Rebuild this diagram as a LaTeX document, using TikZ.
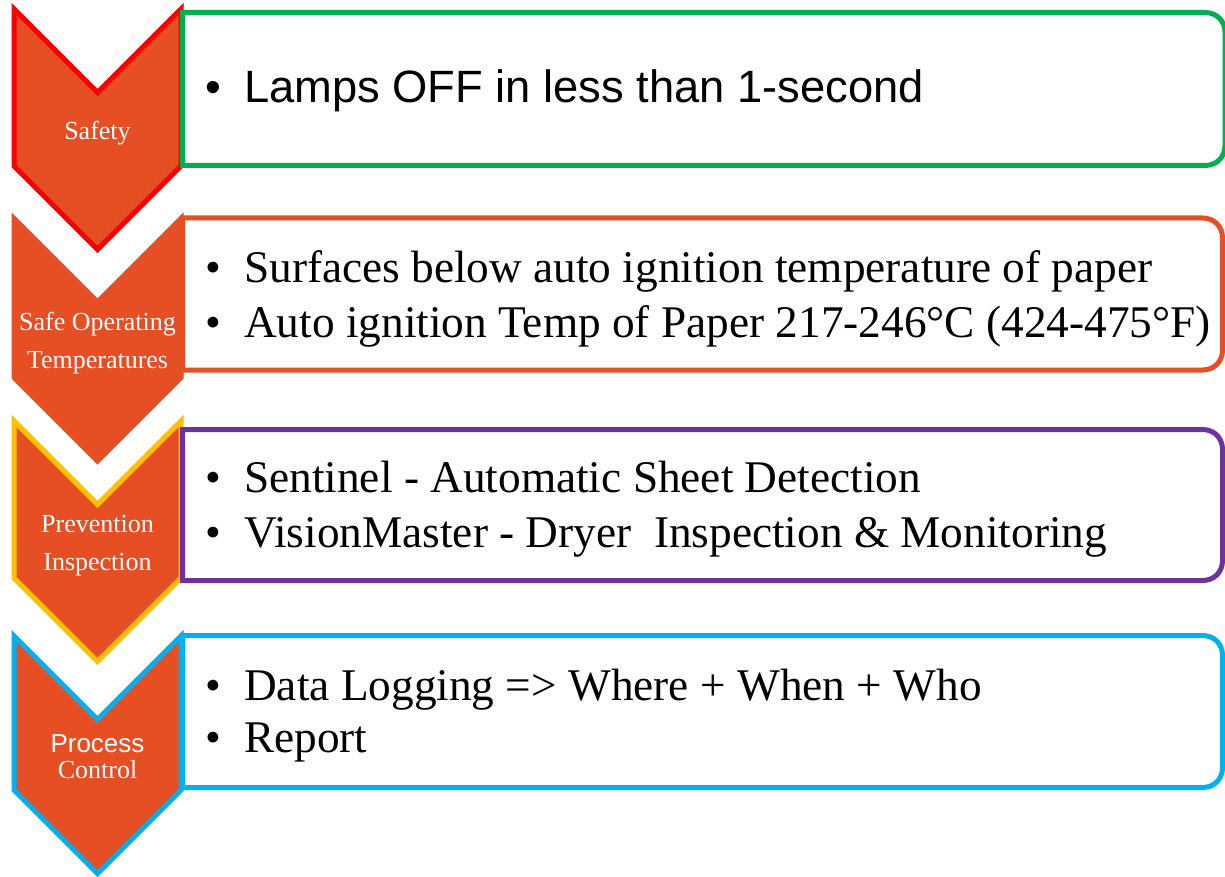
\documentclass[tikz,border=0pt]{standalone}
\usepackage{fontspec}
\setmainfont{Liberation Serif}
\newfontfamily\arialfont{Liberation Sans}
\definecolor{chevfill}{HTML}{E64F24}
\definecolor{pgreen}{HTML}{00B050}
\definecolor{pred}{HTML}{FF0000}
\definecolor{pyellow}{HTML}{FFC000}
\definecolor{ppurple}{HTML}{7030A0}
\definecolor{pblue}{HTML}{00B0F0}
\newcommand{\chevron}[3]{%
  \draw[chev,draw=#3] (14,#1) -- (97.5,#1+83.5) -- (181,#1) -- (181,#2) -- (97.5,#2+83.5) -- (14,#2) -- cycle;}
\newcommand{\pbox}[4]{%
  \draw[boxline,draw=#3] (182.5,#1) -- (#4-20,#1) .. controls (#4-8.4,#1) and (#4,#1+8.4) .. (#4,#1+20)
    -- (#4,#2-20) .. controls (#4,#2-8.4) and (#4-8.4,#2) .. (#4-20,#2) -- (182.5,#2) -- cycle;}
\begin{document}
\begin{tikzpicture}[x=1pt,y=-1pt,
  chev/.style={fill=chevfill, line width=5pt, line join=miter, miter limit=10},
  boxline/.style={fill=white, line width=5pt},
  chevlabel/.style={text=white, font=\fontsize{26}{30}\selectfont, anchor=base, inner sep=0pt},
  bul/.style={font=\fontsize{45}{54}\selectfont, anchor=base, inner sep=0pt},
  boxtext/.style={font=\fontsize{45.3}{54}\selectfont, anchor=base west, inner sep=0pt}
]
\useasboundingbox (0,0) rectangle (1225,877);
\clip (0,0) rectangle (1225,877);
\fill[white] (0,0) rectangle (1225,877);

% chevrons
\chevron{9}{166}{pred}
\chevron{218.5}{377.5}{chevfill}
\chevron{421}{578}{pyellow}
\chevron{636}{790}{pblue}

% boxes
\pbox{12.5}{165.5}{pgreen}{1225}
\pbox{218}{370}{chevfill}{1222.5}
\pbox{429.5}{580.5}{ppurple}{1222.5}
\pbox{635.5}{787.5}{pblue}{1222.5}

% chevron labels
\node[chevlabel] (l1) at (97.5,140) {Safety};
\node[chevlabel] (l2a) at (97.5,330) {Safe Operating};
\node[chevlabel] (l2b) at (97.5,368) {Temperatures};
\node[chevlabel] (l3a) at (97.5,532) {Prevention};
\node[chevlabel] (l3b) at (97.5,570) {Inspection};
\node[chevlabel,font=\arialfont\fontsize{26}{30}\selectfont] (l4a) at (97.5,752) {Process};
\node[chevlabel] (l4b) at (97.5,778) {Control};

% box texts
\node[bul,font=\arialfont\fontsize{45}{54}\selectfont] (b1) at (213,103) {\textbullet};
\node[boxtext,font=\arialfont\fontsize{45.3}{54}\selectfont] (t1) at (244,103) {Lamps OFF in less than 1-second};

\node[bul] (b2a) at (213,282) {\textbullet};
\node[boxtext] (t2a) at (244,282) {Surfaces below auto ignition temperature of paper};
\node[bul] (b2b) at (213,337) {\textbullet};
\node[boxtext] (t2b) at (244,337) {Auto ignition Temp of Paper 217-246°C (424-475°F)};

\node[bul] (b3a) at (213,492) {\textbullet};
\node[boxtext] (t3a) at (244,492) {Sentinel - Automatic Sheet Detection};
\node[bul] (b3b) at (213,547) {\textbullet};
\node[boxtext] (t3b) at (244,547) {VisionMaster - Dryer\ \ Inspection \& Monitoring};

\node[bul] (b4a) at (213,700) {\textbullet};
\node[boxtext] (t4a) at (244,700) {Data Logging => Where + When + Who};
\node[bul] (b4b) at (213,752) {\textbullet};
\node[boxtext] (t4b) at (244,752) {Report};
\end{tikzpicture}
\end{document}
